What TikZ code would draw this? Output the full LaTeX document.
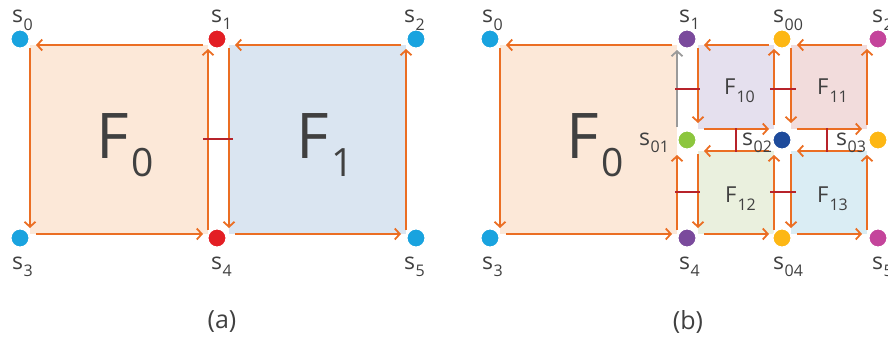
\documentclass[tikz,border=0pt]{standalone}
\usepackage{fontspec}
\setmainfont{Open Sans}
\usetikzlibrary{arrows.meta}
\definecolor{txt}{HTML}{404040}
\definecolor{cblue}{HTML}{19A3DF}
\definecolor{cred}{HTML}{E31E24}
\definecolor{cpurple}{HTML}{7A4A9C}
\definecolor{cyellow}{HTML}{FDB714}
\definecolor{cmagenta}{HTML}{C4449B}
\definecolor{cgreen}{HTML}{8CC63E}
\definecolor{cdarkblue}{HTML}{1E4B9B}
\definecolor{corange}{HTML}{EB6E23}
\definecolor{ctick}{HTML}{B7232A}
\definecolor{cgray}{HTML}{9A9A9A}
\definecolor{fzero}{HTML}{FCE8D8}
\definecolor{fone}{HTML}{DAE5F1}
\definecolor{ften}{HTML}{E5E0EE}
\definecolor{feleven}{HTML}{F2DCDC}
\definecolor{ftwelve}{HTML}{EAF0DE}
\definecolor{fthirteen}{HTML}{DAEDF4}
\newcommand\slab[1]{s\kern0.5pt\raisebox{-7pt}{\fontsize{16}{16}\selectfont #1}}
\newcommand\bigF[1]{\fontsize{63}{63}\selectfont F\kern3pt\raisebox{-18pt}{\fontsize{39}{39}\selectfont #1}}
\newcommand\smallF[1]{\fontsize{22}{22}\selectfont F\kern1pt\raisebox{-8pt}{\fontsize{16}{16}\selectfont #1}}
\newcommand\ccwface[1]{%
  \draw[arr] ([xshift=-5pt]#1.north east) -- ([xshift=6pt]#1.north west);
  \draw[arr] ([yshift=-3pt]#1.north west) -- ([yshift=6pt]#1.south west);
  \draw[arr] ([xshift=6pt]#1.south west) -- ([xshift=-5pt]#1.south east);
}
\newcommand\rightup[1]{%
  \draw[arr] ([yshift=4pt]#1.south east) -- ([yshift=-4pt]#1.north east);
}
\tikzset{
  face/.style={rectangle, inner sep=0pt, outer sep=0pt, draw=none},
  arr/.style={draw=corange, line width=2.2pt, -{Straight Barb[length=5pt,width=11pt,line width=1.8pt]}},
  garr/.style={draw=cgray, line width=2.2pt, -{Straight Barb[length=5pt,width=11pt,line width=1.8pt]}},
  tick/.style={draw=ctick, line width=2pt},
  dot/.style={circle, inner sep=0pt, minimum size=18.5pt, draw=white, line width=1.5pt},
  slabel/.style={anchor=base west, inner sep=0pt, text=txt, font=\fontsize{23}{23}\selectfont},
  flabel/.style={anchor=base west, inner sep=0pt, text=txt},
  caption/.style={inner sep=0pt, text=txt, font=\fontsize{25}{25}\selectfont}
}
\begin{document}
\begin{tikzpicture}[x=1pt,y=-1pt]
\useasboundingbox (0,0) rectangle (888,340);
% ---------- (a) ----------
\node[face, fill=fzero, minimum width=178pt, minimum height=189pt] (A0) at (119,139.5) {};
\node[face, fill=fone, minimum width=177pt, minimum height=189pt] (A1) at (317.5,139.5) {};
\ccwface{A0}\rightup{A0}
\ccwface{A1}\rightup{A1}
\coordinate (ta1) at (203,139);
\coordinate (ta2) at (233,139);
\draw[tick] (ta1) -- (ta2);
\node[flabel] (fa0) at (96,158) {\bigF{0}};
\node[flabel] (fa1) at (296,158) {\bigF{1}};
\node[dot, fill=cblue] (as0) at (20,39) {};
\node[dot, fill=cred] (as1) at (217,39) {};
\node[dot, fill=cblue] (as2) at (416,39) {};
\node[dot, fill=cblue] (as3) at (20,238) {};
\node[dot, fill=cred] (as4) at (217,238) {};
\node[dot, fill=cblue] (as5) at (416,238) {};
\node[slabel] (las0) at (12,23) {\slab{0}};
\node[slabel] (las1) at (211,22) {\slab{1}};
\node[slabel] (las2) at (404,23) {\slab{2}};
\node[slabel] (las3) at (12,269) {\slab{3}};
\node[slabel] (las4) at (211,269) {\slab{4}};
\node[slabel] (las5) at (404,269) {\slab{5}};
\node[caption] (capa) at (222,322) {(a)};
% ---------- (b) ----------
\node[face, fill=fzero, minimum width=177pt, minimum height=189pt] (B0) at (588.5,139.5) {};
\node[face, fill=ften, minimum width=76pt, minimum height=84pt] (B10) at (736,87) {};
\node[face, fill=feleven, minimum width=76pt, minimum height=84pt] (B11) at (829,87) {};
\node[face, fill=ftwelve, minimum width=76pt, minimum height=83pt] (B12) at (736,192.5) {};
\node[face, fill=fthirteen, minimum width=76pt, minimum height=83pt] (B13) at (829,192.5) {};
\ccwface{B0}
\coordinate (g1) at (677,127);
\coordinate (g2) at (677,50);
\draw[garr] (g1) -- (g2);
\coordinate (o1) at (677,230);
\coordinate (o2) at (677,155);
\draw[arr] (o1) -- (o2);
\ccwface{B10}\rightup{B10}
\ccwface{B11}\rightup{B11}
\ccwface{B12}\rightup{B12}
\ccwface{B13}\rightup{B13}
\coordinate (t1a) at (675,89); \coordinate (t1b) at (700,89);
\coordinate (t2a) at (770,89); \coordinate (t2b) at (796,89);
\coordinate (t3a) at (675,192); \coordinate (t3b) at (700,192);
\coordinate (t4a) at (770,192); \coordinate (t4b) at (796,192);
\coordinate (t5a) at (736,128); \coordinate (t5b) at (736,152);
\coordinate (t6a) at (827,128); \coordinate (t6b) at (827,152);
\draw[tick] (t1a) -- (t1b);
\draw[tick] (t2a) -- (t2b);
\draw[tick] (t3a) -- (t3b);
\draw[tick] (t4a) -- (t4b);
\draw[tick] (t5a) -- (t5b);
\draw[tick] (t6a) -- (t6b);
\node[flabel] (fb0) at (566,158) {\bigF{0}};
\node[flabel] (fb10) at (724,94) {\smallF{10}};
\node[flabel] (fb11) at (817,94) {\smallF{11}};
\node[flabel] (fb12) at (725,202) {\smallF{12}};
\node[flabel] (fb13) at (817,202) {\smallF{13}};
\node[dot, fill=cblue] (bs0) at (490,39) {};
\node[dot, fill=cpurple] (bs1) at (687,39) {};
\node[dot, fill=cyellow] (bs00) at (782,39) {};
\node[dot, fill=cmagenta] (bs2) at (878,39) {};
\node[dot, fill=cgreen] (bs01) at (687,140) {};
\node[dot, fill=cdarkblue] (bs02) at (782,140) {};
\node[dot, fill=cyellow] (bs03) at (878,140) {};
\node[dot, fill=cblue] (bs3) at (490,238) {};
\node[dot, fill=cpurple] (bs4) at (687,238) {};
\node[dot, fill=cyellow] (bs04) at (782,238) {};
\node[dot, fill=cmagenta] (bs5) at (878,238) {};
\node[slabel] (lbs0) at (482,23) {\slab{0}};
\node[slabel] (lbs1) at (679,22) {\slab{1}};
\node[slabel] (lbs00) at (773,23) {\slab{00}};
\node[slabel] (lbs2) at (872,23) {\slab{2}};
\node[slabel] (lbs01) at (639,145) {\slab{01}};
\node[slabel] (lbs02) at (742,145) {\slab{02}};
\node[slabel] (lbs03) at (836,145) {\slab{03}};
\node[slabel] (lbs3) at (482,269) {\slab{3}};
\node[slabel] (lbs4) at (679,269) {\slab{4}};
\node[slabel] (lbs04) at (773,269) {\slab{04}};
\node[slabel] (lbs5) at (872,269) {\slab{5}};
\node[caption] (capb) at (688,322) {(b)};
\end{tikzpicture}
\end{document}
